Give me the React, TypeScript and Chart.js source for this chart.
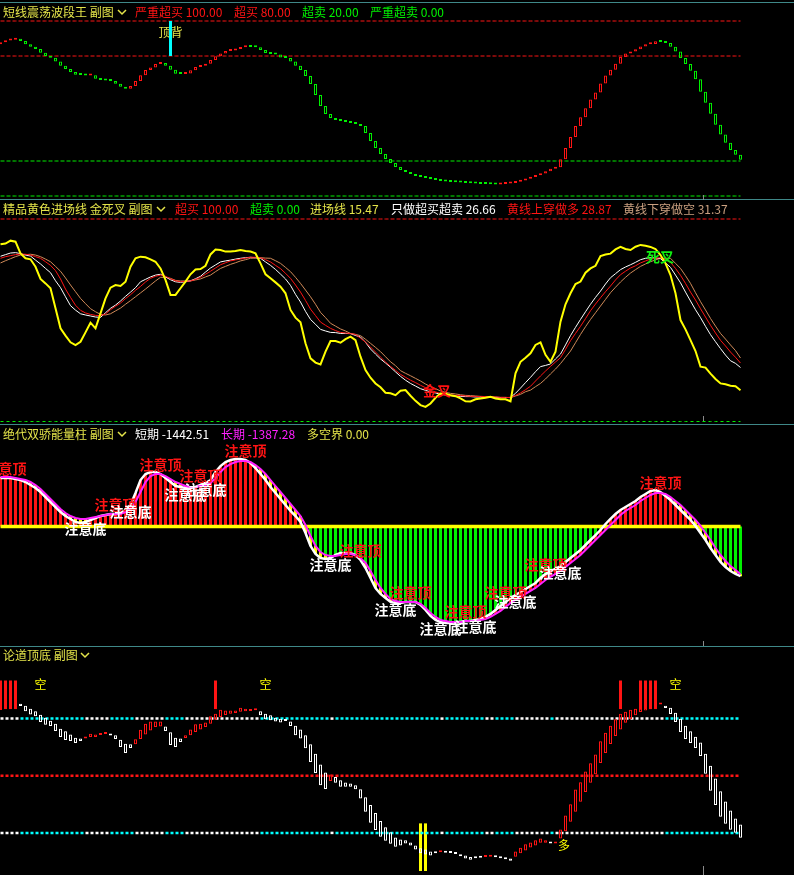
import React, { useEffect, useRef } from "react";
import { Chart, registerables } from "chart.js";
Chart.register(...registerables);

const W = 794;
const H = 875;

// ---------- categories ----------
const BAR_INDEX: number[] = Array.from({ length: 149 }, (_, i) => i);

// ---------- panel 1: 短线震荡波段王 ----------
const P1_OSC = [
  87.8, 88.8, 89.3, 89.9, 88.6, 86.7, 85.3, 84.0, 81.9, 80.0,
  79.0, 76.8, 74.5, 72.6, 70.9, 69.3, 69.1, 68.8, 68.95, 67.0,
  66.3, 66.0, 65.7, 64.2, 62.5, 61.3, 62.9, 65.7, 69.0, 72.0,
  73.5, 75.4, 76.0, 74.5, 72.2, 69.9, 69.7, 70.0, 71.8, 73.7,
  74.5, 75.6, 77.7, 79.8, 81.5, 82.9, 83.2, 84.0, 85.0, 85.2,
  85.1, 85.0, 83.4, 81.7, 81.1, 80.8, 79.2, 78.9, 76.8, 74.5,
  72.0, 68.6, 64.0, 57.7, 51.4, 46.9, 44.6, 43.4, 42.9, 42.3,
  41.7, 41.1, 40.0, 36.0, 31.4, 27.4, 24.0, 21.1, 18.9, 16.6,
  14.9, 13.7, 12.6, 11.4, 10.9, 10.3, 9.7, 9.1, 8.6, 8.3,
  8.0, 7.9, 7.7, 7.4, 7.3, 7.1, 6.9, 6.8, 6.7, 6.6,
  6.8, 7.1, 7.5, 8.1, 8.9, 9.8, 10.8, 11.8, 12.9, 14.2,
  15.6, 16.4, 21.0, 27.4, 33.7, 40.0, 45.0, 50.1, 55.2, 59.2,
  64.3, 68.8, 72.2, 75.6, 79.4, 81.5, 82.6, 83.8, 85.5, 86.7,
  86.9, 88.4, 88.0, 87.4, 85.3, 82.6, 78.9, 75.4, 71.6, 66.7,
  59.6, 53.3, 47.0, 40.7, 35.2, 30.5, 26.3, 23.6, 20.7,
];
const P1_LEVELS_RED = [100, 80];
const P1_LEVELS_GREEN = [20, 0];
const P1_SIGNAL_IDX = [34];
const P1_SIGNAL_RANGE = [80, 100];
const P1_SIGNAL_TEXT_LEVEL = 93.5;

// ---------- panel 2: 精品黄色进场线 ----------
const P2_YELLOW = [
  87.5, 87.9, 89.3, 88.8, 83.0, 80.6, 80.1, 76.4, 70.4, 68.2,
  65.8, 55.9, 46.0, 42.4, 39.1, 37.7, 39.4, 44.0, 48.8, 46.0,
  53.4, 60.8, 66.1, 67.4, 66.9, 69.0, 76.4, 80.6, 81.4, 81.1,
  80.1, 78.9, 75.6, 69.9, 62.5, 62.5, 65.8, 69.1, 72.7, 75.1,
  75.3, 76.9, 82.5, 84.9, 84.7, 83.9, 83.9, 84.2, 84.7, 84.2,
  83.9, 83.0, 78.1, 72.7, 70.7, 68.7, 66.6, 63.3, 55.1, 51.3,
  49.0, 38.6, 31.2, 29.1, 28.2, 34.5, 39.7, 39.7, 38.9, 40.7,
  41.9, 40.2, 32.0, 25.4, 21.6, 18.8, 16.9, 14.2, 13.9, 13.0,
  15.2, 15.5, 12.7, 10.2, 8.1, 7.2, 8.9, 11.7, 13.8, 13.7,
  13.0, 12.5, 11.4, 10.0, 9.9, 11.0, 11.4, 11.7, 12.2, 11.4,
  11.0, 11.0, 10.0, 23.8, 29.5, 31.5, 33.7, 37.8, 39.1, 32.9,
  29.5, 34.5, 49.3, 57.9, 63.3, 67.9, 69.1, 73.5, 75.6, 76.9,
  81.7, 82.5, 82.9, 85.0, 86.2, 85.2, 84.7, 86.3, 87.2, 86.8,
  86.2, 85.2, 82.2, 78.1, 72.3, 63.3, 50.1, 45.5, 40.2, 34.8,
  27.1, 26.6, 23.6, 21.0, 18.8, 18.4, 17.7, 17.4, 15.47,
];
const P2_WHITE = [
  81.6, 82.4, 83.2, 83.4, 82.9, 82.2, 81.7, 79.7, 77.8, 75.6,
  73.5, 69.5, 66.1, 61.6, 57.2, 55.0, 53.2, 52.6, 52.1, 51.6,
  51.4, 53.7, 55.9, 57.5, 59.5, 61.8, 63.9, 66.1, 69.0, 70.2,
  71.4, 72.3, 72.7, 71.4, 70.0, 69.0, 68.7, 69.0, 69.5, 70.5,
  71.7, 73.8, 75.8, 77.3, 78.8, 79.3, 79.7, 80.2, 80.6, 80.9,
  81.1, 80.9, 80.6, 78.8, 77.1, 75.1, 72.8, 70.4, 67.2, 62.8,
  59.0, 54.4, 50.4, 48.0, 45.5, 44.7, 44.0, 43.9, 43.5, 43.5,
  43.4, 42.5, 41.7, 39.1, 35.8, 33.3, 30.9, 28.9, 26.8, 24.5,
  22.3, 20.4, 18.8, 17.5, 16.2, 15.4, 14.6, 14.1, 13.4, 13.1,
  12.8, 12.6, 12.4, 12.3, 12.3, 12.1, 12.1, 11.9, 11.9, 11.9,
  11.8, 11.8, 11.9, 13.9, 16.5, 19.2, 21.8, 24.6, 27.1, 27.7,
  28.4, 30.9, 33.3, 37.8, 42.4, 46.5, 50.4, 54.2, 57.9, 61.3,
  64.4, 67.9, 71.0, 73.0, 75.0, 76.3, 77.4, 78.6, 79.9, 80.6,
  80.9, 80.7, 80.4, 78.3, 76.1, 72.3, 68.5, 63.9, 59.5, 55.2,
  51.3, 47.0, 42.9, 39.4, 36.0, 32.8, 30.0, 28.7, 26.66,
];
const P2_RED = [
  80.6, 81.4, 81.9, 82.4, 82.7, 82.6, 82.2, 81.4, 80.6, 78.9,
  77.1, 74.5, 70.4, 65.4, 61.3, 57.4, 54.9, 53.6, 52.9, 52.4,
  52.3, 53.1, 55.2, 56.9, 58.5, 60.7, 62.6, 64.8, 66.7, 68.9,
  70.7, 71.7, 72.3, 71.7, 70.5, 69.5, 69.0, 69.2, 69.4, 70.2,
  71.2, 72.7, 74.2, 75.8, 77.4, 78.4, 79.3, 79.8, 80.2, 80.7,
  81.1, 81.1, 80.9, 79.9, 78.8, 77.1, 75.5, 73.2, 70.7, 67.4,
  63.9, 59.8, 55.5, 52.3, 49.1, 47.5, 46.0, 44.9, 44.0, 43.7,
  43.4, 43.0, 41.1, 39.2, 36.8, 34.3, 31.8, 29.4, 27.2, 25.3,
  23.3, 21.8, 20.4, 19.2, 17.9, 16.7, 15.4, 14.6, 13.9, 13.4,
  13.1, 12.9, 12.8, 12.6, 12.4, 12.4, 12.3, 12.3, 12.1, 12.1,
  11.9, 11.9, 11.8, 12.9, 14.1, 15.7, 17.4, 20.0, 22.5, 24.9,
  27.2, 29.4, 31.5, 35.6, 39.9, 43.5, 47.0, 50.8, 54.7, 58.0,
  61.1, 64.1, 66.9, 69.9, 72.5, 74.2, 75.8, 76.9, 78.3, 79.3,
  80.2, 80.6, 80.9, 79.9, 78.6, 75.6, 72.2, 68.2, 63.9, 60.0,
  55.7, 51.6, 47.5, 43.7, 40.1, 37.3, 34.3, 31.7, 28.87,
];
const P2_TAN = [
  78.3, 79.4, 80.4, 81.4, 82.2, 82.4, 82.6, 82.2, 81.4, 80.2,
  78.9, 76.6, 74.2, 70.9, 67.4, 64.1, 60.8, 58.2, 55.7, 54.2,
  52.9, 52.6, 53.2, 54.6, 56.0, 57.9, 59.7, 61.6, 63.5, 65.4,
  67.4, 69.4, 71.2, 71.2, 70.7, 69.7, 69.4, 69.4, 69.4, 69.9,
  70.4, 71.4, 72.3, 74.0, 75.6, 76.6, 77.6, 78.4, 79.3, 79.9,
  80.6, 80.7, 80.9, 80.7, 80.6, 79.4, 78.1, 76.1, 74.0, 71.2,
  68.2, 64.9, 61.6, 57.9, 53.9, 51.3, 48.5, 47.1, 45.7, 44.7,
  43.5, 43.0, 42.4, 40.6, 38.6, 36.6, 34.5, 32.0, 29.5, 27.6,
  25.1, 23.8, 22.6, 21.3, 20.0, 18.5, 17.2, 16.2, 15.1, 14.4,
  13.9, 13.6, 13.2, 12.9, 12.8, 12.6, 12.4, 12.3, 12.3, 12.1,
  11.9, 11.9, 11.8, 12.6, 13.4, 14.7, 15.5, 17.2, 18.8, 21.0,
  23.5, 25.9, 28.6, 31.7, 34.8, 38.9, 43.0, 46.8, 50.4, 53.7,
  57.0, 60.3, 63.6, 66.3, 68.9, 71.2, 73.3, 75.0, 76.6, 77.8,
  78.9, 79.8, 80.6, 80.6, 80.6, 78.1, 75.6, 72.0, 68.2, 63.6,
  59.2, 55.1, 50.9, 47.1, 43.5, 40.7, 37.8, 35.0, 31.37,
];
const P2_LEVEL_TOP = 100;
const P2_LEVEL_BOTTOM = 0;
const P2_CROSS_LABELS = [
  { text: "金叉", i: 87.3, v: 15.1, color: "#ff1010" },
  { text: "死叉", i: 131.9, v: 81.2, color: "#10ee10" },
];

// ---------- panel 3: 绝代双骄能量柱 ----------
const P3_SHORT = [
  1407, 1407, 1407, 1378, 1349, 1291, 1204, 1117, 1001, 856,
  711, 566, 421, 305, 218, 131, 102, 131, 189, 247,
  305, 334, 363, 363, 392, 479, 624, 972, 1349, 1523,
  1581, 1581, 1523, 1407, 1291, 1175, 1146, 1117, 1117, 1146,
  1204, 1262, 1349, 1581, 1755, 1871, 1929, 1958, 1958, 1929,
  1842, 1697, 1523, 1349, 1146, 972, 798, 624, 450, 305,
  131, -189, -566, -798, -914, -943, -914, -827, -769, -769,
  -769, -827, -972, -1204, -1494, -1784, -1958, -2074, -2190, -2219,
  -2219, -2190, -2190, -2190, -2277, -2422, -2596, -2712, -2770, -2799,
  -2799, -2770, -2770, -2741, -2741, -2712, -2683, -2625, -2538, -2422,
  -2306, -2190, -2074, -1987, -1900, -1813, -1726, -1639, -1494, -1378,
  -1291, -1233, -1146, -1030, -914, -798, -682, -537, -392, -247,
  -102, 73, 218, 363, 479, 566, 653, 740, 856, 943,
  1030, 1059, 1001, 885, 769, 624, 479, 334, 189, 15,
  -189, -392, -624, -827, -1030, -1175, -1291, -1378, -1442.51,
];
const P3_LONG = [
  1436, 1436, 1436, 1407, 1378, 1349, 1291, 1204, 1088, 943,
  798, 653, 508, 392, 305, 247, 218, 218, 247, 276,
  305, 334, 363, 363, 363, 421, 508, 711, 1001, 1291,
  1465, 1523, 1523, 1465, 1378, 1291, 1233, 1175, 1146, 1146,
  1175, 1204, 1262, 1407, 1581, 1726, 1813, 1871, 1900, 1900,
  1871, 1784, 1668, 1523, 1349, 1175, 1001, 827, 653, 479,
  305, 44, -276, -566, -740, -827, -856, -856, -827, -798,
  -798, -827, -914, -1059, -1291, -1552, -1784, -1958, -2103, -2161,
  -2190, -2190, -2190, -2190, -2248, -2364, -2509, -2625, -2712, -2741,
  -2770, -2770, -2770, -2741, -2741, -2741, -2712, -2683, -2625, -2538,
  -2451, -2335, -2219, -2132, -2045, -1958, -1871, -1784, -1668, -1552,
  -1465, -1378, -1291, -1175, -1059, -943, -827, -682, -537, -392,
  -247, -102, 44, 189, 334, 450, 537, 624, 740, 827,
  914, 972, 972, 943, 856, 740, 624, 479, 334, 189,
  15, -189, -392, -624, -827, -1001, -1146, -1262, -1387.28,
];
const P3_ZERO = 0;
const P3_TOP_IDX = [1, 23, 32, 40, 49, 72, 82, 93, 101, 109, 132];
const P3_BOTTOM_IDX = [17, 26, 37, 41, 66, 79, 88, 95, 103, 112];

// ---------- panel 4: 论道顶底 ----------
const P4_OPEN = [
  84.5, 85.5, 86.8, 87.2, 87.8, 86.7, 85.2, 83.9, 82.0, 80.5,
  78.9, 77.3, 74.7, 73.3, 71.6, 70.0, 69.5, 69.6, 70.3, 70.3,
  71.4, 71.9, 71.4, 71.2, 68.9, 66.8, 66.5, 66.5, 69.3, 71.7,
  73.8, 75.6, 75.9, 75.9, 72.8, 70.0, 69.6, 69.8, 71.2, 73.0,
  74.3, 75.6, 77.3, 79.4, 80.8, 81.9, 82.6, 82.9, 83.6, 83.8,
  84.0, 84.4, 83.8, 82.6, 81.7, 80.5, 79.9, 79.4, 78.5, 76.3,
  74.3, 71.2, 66.5, 61.6, 55.9, 51.7, 47.3, 49.4, 47.6, 46.4,
  45.9, 45.0, 42.9, 38.7, 34.6, 30.4, 26.2, 23.0, 20.4, 17.6,
  16.6, 16.1, 15.0, 13.4, 11.9, 11.3, 10.3, 9.6, 9.9, 9.9,
  9.7, 9.2, 8.7, 8.2, 7.3, 7.0, 7.3, 7.3, 7.5, 7.5,
  7.0, 6.5, 6.6, 7.5, 9.3, 10.7, 12.4, 13.4, 14.8, 14.8,
  14.9, 14.4, 17.1, 20.9, 25.8, 31.1, 36.3, 41.5, 46.3, 50.8,
  56.7, 62.0, 66.7, 70.9, 74.3, 77.8, 79.6, 81.7, 83.4, 84.3,
  84.9, 85.4, 87.4, 86.7, 85.7, 83.1, 79.9, 76.3, 73.3, 70.5,
  67.4, 61.6, 55.3, 48.5, 41.9, 36.5, 31.8, 27.6, 24.4,
];
const P4_CLOSE = [
  85.5, 86.8, 87.8, 88.3, 86.6, 83.9, 82.2, 81.2, 78.2, 76.8,
  76.1, 73.5, 70.3, 68.8, 68.2, 67.2, 68.2, 70.0, 72.1, 71.7,
  71.7, 72.1, 71.1, 69.3, 65.1, 62.0, 64.6, 69.1, 74.2, 77.3,
  78.5, 78.5, 78.5, 73.5, 66.1, 65.1, 67.7, 71.2, 74.3, 77.0,
  77.3, 78.0, 81.2, 82.6, 84.6, 84.3, 84.3, 84.3, 85.7, 85.2,
  84.4, 84.7, 81.7, 79.6, 79.1, 78.5, 78.0, 78.7, 76.1, 71.2,
  69.6, 64.4, 57.2, 51.5, 45.0, 43.1, 50.6, 46.3, 44.2, 44.2,
  44.2, 42.9, 38.0, 31.1, 25.3, 21.5, 18.0, 15.9, 14.3, 12.7,
  13.4, 14.5, 13.4, 11.3, 9.3, 8.7, 8.2, 9.3, 10.1, 9.6,
  9.4, 8.9, 7.7, 6.5, 5.9, 6.7, 7.0, 7.5, 7.7, 7.2,
  6.7, 6.2, 5.4, 10.3, 12.2, 14.0, 15.0, 16.1, 17.1, 16.1,
  14.5, 14.7, 21.8, 29.1, 35.1, 42.8, 46.6, 52.2, 56.5, 61.1,
  68.1, 72.6, 76.3, 79.6, 82.6, 83.6, 84.6, 85.2, 85.2, 85.6,
  86.1, 86.6, 87.6, 85.5, 82.4, 78.2, 73.0, 69.3, 67.2, 64.6,
  60.4, 51.0, 42.1, 34.7, 28.5, 24.8, 21.6, 20.1, 17.5,
];
const P4_LEVELS_DUAL = [80, 20];
const P4_LEVEL_MID = 50;
const P4_SELL_IDX = [0, 1, 2, 3, 43, 124, 128, 129, 130, 131];
const P4_SELL_RANGE = [85, 100];
const P4_BUY_IDX = [84, 85];
const P4_BUY_RANGE = [0, 25];
const P4_SELL_TEXT = { idx: [8, 53, 135], v: 98 };
const P4_BUY_TEXT = { idx: [112.7], v: 13.6 };

// ---------- styles ----------
const RED = "#ff1414";
const GREEN = "#00f000";
const YELLOW = "#ffff00";
const CYAN = "#00ffff";
const MAGENTA = "#ff20ff";
const WHITE = "#ffffff";
const TAN = "#d08a58";
const TITLE = "#e4e44a";
const FONT = '"Noto Sans CJK SC", "Noto Sans", sans-serif';

// value range of an axis that spans the whole canvas, given two anchor (value, pixel) pairs
function axisRange(v1: number, y1: number, v2: number, y2: number) {
  const k = (v1 - v2) / (y2 - y1);
  return { min: v2 - (H - y2) * k, max: v1 + y1 * k };
}
const AX1 = axisRange(100, 21, 0, 196);
const AX2 = axisRange(100, 219, 0, 421.5);
const AX3 = axisRange(0, 526.5, -1442.51, 576.2);
const AX4 = axisRange(100, 680.5, 0, 871);

const flat = (v: number) => BAR_INDEX.map(() => v);

function buildConfig(): any {
  const p1Open = P1_OSC.map((v, i) => (i === 0 ? v : P1_OSC[i - 1]));
  const candleBase = {
    type: "bar",
    barThickness: 3,
    borderWidth: 1,
    borderSkipped: false,
    backgroundColor: "rgba(0,0,0,0)",
    inflateAmount: 0,
    minBarLength: 2,
    grouped: false,
  };
  const solidBar = {
    type: "bar",
    barThickness: 3,
    borderWidth: 0,
    inflateAmount: 0,
    grouped: false,
  };
  const line = {
    type: "line",
    pointRadius: 0,
    tension: 0,
    fill: false,
  };
  const p4Rising = (i: number) => P4_CLOSE[i] > P4_OPEN[i];

  const datasets: any[] = [
    // panel 1 levels
    ...P1_LEVELS_RED.map((lv) => ({ ...line, yAxisID: "y1", data: flat(lv), borderColor: RED, borderWidth: 1, borderDash: [4, 2], order: 100 })),
    ...P1_LEVELS_GREEN.map((lv) => ({ ...line, yAxisID: "y1", data: flat(lv), borderColor: GREEN, borderWidth: 1, borderDash: [4, 2], order: 100 })),
    {
      ...candleBase, yAxisID: "y1", order: 60,
      data: P1_OSC.map((v, i) => [p1Open[i], v]),
      borderColor: P1_OSC.map((v, i) => (v >= p1Open[i] ? RED : GREEN)),
    },
    {
      ...solidBar, yAxisID: "y1", order: 55,
      data: BAR_INDEX.map((i) => (P1_SIGNAL_IDX.includes(i) ? P1_SIGNAL_RANGE : null)),
      backgroundColor: CYAN,
    },
    // panel 2
    { ...line, yAxisID: "y2", data: flat(P2_LEVEL_TOP), borderColor: RED, borderWidth: 1, borderDash: [4, 2], order: 100 },
    { ...line, yAxisID: "y2", data: flat(P2_LEVEL_BOTTOM), borderColor: GREEN, borderWidth: 1, borderDash: [3, 3], order: 100 },
    { ...line, yAxisID: "y2", data: P2_TAN, borderColor: TAN, borderWidth: 1, order: 40 },
    { ...line, yAxisID: "y2", data: P2_WHITE, borderColor: WHITE, borderWidth: 1, order: 39 },
    { ...line, yAxisID: "y2", data: P2_RED, borderColor: RED, borderWidth: 1, order: 38 },
    { ...line, yAxisID: "y2", data: P2_YELLOW, borderColor: YELLOW, borderWidth: 2, order: 30 },
    // panel 3
    {
      ...solidBar, yAxisID: "y3", order: 90,
      data: P3_SHORT,
      backgroundColor: P3_SHORT.map((v) => (v >= 0 ? RED : GREEN)),
    },
    {
      ...solidBar, yAxisID: "y3", order: 80,
      data: P3_SHORT.map((s, i) => [P3_LONG[i], s]),
      backgroundColor: P3_SHORT.map((s, i) => (s < P3_LONG[i] ? YELLOW : RED)),
    },
    { ...line, yAxisID: "y3", data: flat(P3_ZERO), borderColor: YELLOW, borderWidth: 3.5, order: 70 },
    { ...line, yAxisID: "y3", data: P3_SHORT, borderColor: WHITE, borderWidth: 2.5, order: 45 },
    { ...line, yAxisID: "y3", data: P3_LONG, borderColor: MAGENTA, borderWidth: 2, order: 44 },
    // panel 4
    {
      ...solidBar, yAxisID: "y4", order: 58,
      data: BAR_INDEX.map((i) => (P4_SELL_IDX.includes(i) ? P4_SELL_RANGE : null)),
      backgroundColor: RED,
    },
    {
      ...solidBar, yAxisID: "y4", order: 58,
      data: BAR_INDEX.map((i) => (P4_BUY_IDX.includes(i) ? P4_BUY_RANGE : null)),
      backgroundColor: YELLOW,
    },
    ...P4_LEVELS_DUAL.map((lv) => ({
      ...line, yAxisID: "y4", data: flat(lv), borderWidth: 2.5, borderDash: [3, 2], borderColor: CYAN, order: 57,
      segment: { borderColor: (c: any) => (p4Rising(c.p0DataIndex) ? WHITE : CYAN) },
    })),
    { ...line, yAxisID: "y4", data: flat(P4_LEVEL_MID), borderColor: RED, borderWidth: 2.5, borderDash: [3, 2], order: 57 },
    {
      ...candleBase, yAxisID: "y4", order: 50,
      data: P4_CLOSE.map((c, i) => [P4_OPEN[i], c]),
      borderColor: BAR_INDEX.map((i) => (p4Rising(i) ? RED : WHITE)),
    },
  ];

  const labelPlugin = {
    id: "indicatorLabels",
    beforeDatasetsDraw(chart: any) {
      const { ctx, scales } = chart;
      ctx.save();
      ctx.font = `12px ${FONT}`;
      ctx.fillStyle = TITLE;
      ctx.textAlign = "center";
      ctx.textBaseline = "middle";
      P1_SIGNAL_IDX.forEach((i) => {
        ctx.fillText("顶背", scales.x.getPixelForValue(i), scales.y1.getPixelForValue(P1_SIGNAL_TEXT_LEVEL));
      });
      ctx.restore();
    },
    afterDatasetsDraw(chart: any) {
      const { ctx, scales } = chart;
      const x = scales.x;
      ctx.save();
      ctx.textAlign = "center";
      ctx.textBaseline = "middle";
      // panel 2 crosses
      ctx.font = `bold 14px ${FONT}`;
      P2_CROSS_LABELS.forEach((l) => {
        ctx.fillStyle = l.color;
        ctx.fillText(l.text, x.getPixelForValue(l.i), scales.y2.getPixelForValue(l.v));
      });
      // panel 3 notes
      ctx.font = `bold 14px ${FONT}`;
      P3_TOP_IDX.forEach((i) => {
        ctx.fillStyle = RED;
        ctx.fillText("注意顶", x.getPixelForValue(i), scales.y3.getPixelForValue(P3_SHORT[i]) - 9);
      });
      P3_BOTTOM_IDX.forEach((i) => {
        ctx.fillStyle = WHITE;
        ctx.fillText("注意底", x.getPixelForValue(i), scales.y3.getPixelForValue(P3_SHORT[i]) + 7);
      });
      // panel 4 texts
      ctx.font = `12px ${FONT}`;
      ctx.fillStyle = YELLOW;
      P4_SELL_TEXT.idx.forEach((i) => ctx.fillText("空", x.getPixelForValue(i), scales.y4.getPixelForValue(P4_SELL_TEXT.v)));
      P4_BUY_TEXT.idx.forEach((i) => ctx.fillText("多", x.getPixelForValue(i), scales.y4.getPixelForValue(P4_BUY_TEXT.v)));
      ctx.restore();
    },
  };

  const yAxis = (r: { min: number; max: number }) => ({
    type: "linear", display: false, min: r.min, max: r.max, bounds: "data",
    ticks: { includeBounds: true },
  });

  return {
    type: "line",
    data: { labels: BAR_INDEX, datasets },
    options: {
      responsive: false,
      maintainAspectRatio: false,
      devicePixelRatio: 1,
      animation: false,
      events: [],
      layout: { padding: 0 },
      plugins: { legend: { display: false }, tooltip: { enabled: false } },
      scales: {
        x: { type: "linear", display: false, min: -0.1, max: -0.1 + W / 5, offset: false, bounds: "data" },
        y1: yAxis(AX1),
        y2: yAxis(AX2),
        y3: yAxis(AX3),
        y4: yAxis(AX4),
      },
    },
    plugins: [labelPlugin],
  };
}

type Seg = { text: string; color: string; left: number };

const HEADERS: { top: number; chevron: number; segs: Seg[] }[] = [
  {
    top: 4.5, chevron: 117,
    segs: [
      { text: "短线震荡波段王 副图", color: TITLE, left: 3 },
      { text: "严重超买 100.00", color: RED, left: 135 },
      { text: "超买 80.00", color: RED, left: 234 },
      { text: "超卖 20.00", color: GREEN, left: 302 },
      { text: "严重超卖 0.00", color: GREEN, left: 370 },
    ],
  },
  {
    top: 202, chevron: 156,
    segs: [
      { text: "精品黄色进场线 金死叉 副图", color: TITLE, left: 3 },
      { text: "超买 100.00", color: RED, left: 175 },
      { text: "超卖 0.00", color: GREEN, left: 250 },
      { text: "进场线 15.47", color: TITLE, left: 310 },
      { text: "只做超买超卖 26.66", color: WHITE, left: 391 },
      { text: "黄线上穿做多 28.87", color: RED, left: 507 },
      { text: "黄线下穿做空 31.37", color: "#caa080", left: 623 },
    ],
  },
  {
    top: 427, chevron: 117,
    segs: [
      { text: "绝代双骄能量柱 副图", color: TITLE, left: 3 },
      { text: "短期 -1442.51", color: WHITE, left: 135 },
      { text: "长期 -1387.28", color: MAGENTA, left: 221 },
      { text: "多空界 0.00", color: TITLE, left: 307 },
    ],
  },
  {
    top: 648, chevron: 80,
    segs: [{ text: "论道顶底 副图", color: TITLE, left: 3 }],
  },
];

const SEPARATORS = [2, 199.5, 424.5, 646];
const MARK_TICKS = [
  { top: 195, h: 5 },
  { top: 416, h: 5 },
  { top: 641, h: 5 },
  { top: 866, h: 9 },
];

export default function App() {
  const ref = useRef<HTMLCanvasElement | null>(null);
  useEffect(() => {
    document.body.style.margin = "0";
    document.body.style.background = "#000";
    const canvas = ref.current;
    if (!canvas) return;
    const chart = new Chart(canvas, buildConfig());
    return () => chart.destroy();
  }, []);

  return (
    <div style={{ position: "fixed", left: 0, top: 0, width: W, height: H, background: "#000", overflow: "hidden" }}>
      <canvas ref={ref} width={W} height={H} style={{ position: "absolute", left: 0, top: 0, width: W, height: H }} />
      {SEPARATORS.map((y, k) => (
        <div key={"s" + k} style={{ position: "absolute", left: 0, top: Math.floor(y), width: W, height: 1, background: "#3f8888" }} />
      ))}
      {MARK_TICKS.map((t, k) => (
        <div key={"t" + k} style={{ position: "absolute", left: 703, top: t.top, width: 1, height: t.h, background: "#8a8a8a" }} />
      ))}
      {HEADERS.map((h, k) => (
        <React.Fragment key={"h" + k}>
          {h.segs.map((s, j) => (
            <span
              key={j}
              style={{
                position: "absolute", left: s.left, top: h.top, color: s.color,
                fontFamily: FONT, fontSize: 12, lineHeight: "14px", whiteSpace: "nowrap",
              }}
            >
              {s.text}
            </span>
          ))}
          <svg style={{ position: "absolute", left: h.chevron, top: h.top + 4 }} width={10} height={7}>
            <polyline points="1,1 5,5 9,1" fill="none" stroke={TITLE} strokeWidth={1.5} />
          </svg>
        </React.Fragment>
      ))}
    </div>
  );
}
